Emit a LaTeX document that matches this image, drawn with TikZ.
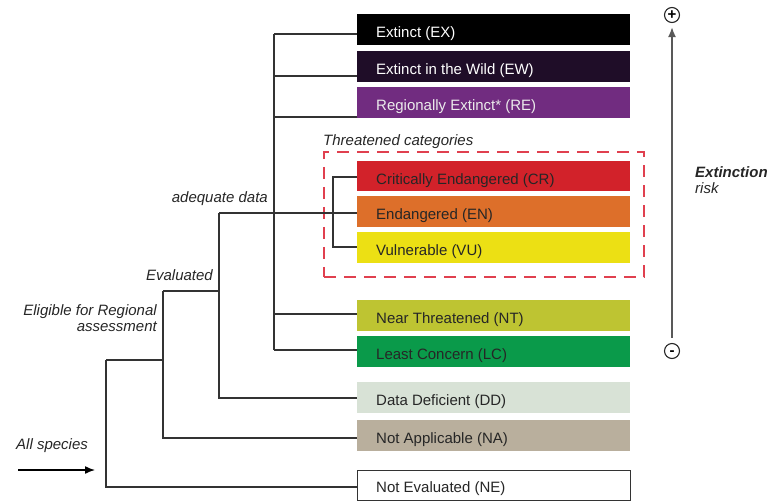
\documentclass[tikz,border=0pt]{standalone}
\usepackage{fontspec}
\setmainfont{Liberation Sans}
\usetikzlibrary{arrows.meta}
\definecolor{cEX}{HTML}{000000}
\definecolor{cEW}{HTML}{1F0D28}
\definecolor{cRE}{HTML}{712C80}
\definecolor{cCR}{HTML}{D2222A}
\definecolor{cEN}{HTML}{DD6F2A}
\definecolor{cVU}{HTML}{ECE014}
\definecolor{cNT}{HTML}{BEC432}
\definecolor{cLC}{HTML}{0A9A4A}
\definecolor{cDD}{HTML}{D8E2D6}
\definecolor{cNA}{HTML}{B9AF9D}
\definecolor{lineC}{HTML}{333333}
\definecolor{dashC}{HTML}{E0404F}
\begin{document}
\begin{tikzpicture}[x=1pt,y=-1pt,
  catbox/.style={draw=none,rectangle,minimum width=273pt,minimum height=31pt,inner sep=0pt,anchor=north west},
  cattext/.style={anchor=base west,inner sep=0pt,font=\fontsize{15}{16}\selectfont},
  lbl/.style={inner sep=0pt,font=\fontsize{15}{16}\selectfont\itshape,align=right},
  conn/.style={draw=lineC,line width=1.7pt},
  sign/.style={circle,draw=black!85,line width=1.1pt,minimum size=15pt,inner sep=0pt,font=\fontsize{15}{15}\selectfont\bfseries},
]
\useasboundingbox (0,0) rectangle (782,501);
% boxes
\node[catbox,fill=cEX] (ex) at (357,14) {};
\node[catbox,fill=cEW] (ew) at (357,51) {};
\node[catbox,fill=cRE] (re) at (357,87) {};
\node[catbox,fill=cCR,minimum height=30pt] (cr) at (357,161) {};
\node[catbox,fill=cEN] (en) at (357,196) {};
\node[catbox,fill=cVU] (vu) at (357,232) {};
\node[catbox,fill=cNT] (nt) at (357,300) {};
\node[catbox,fill=cLC] (lc) at (357,336) {};
\node[catbox,fill=cDD] (dd) at (357,382) {};
\node[catbox,fill=cNA] (na) at (357,420) {};
\node[catbox,draw=lineC,line width=1.3pt,fill=white,minimum height=30pt] (ne) at (357,470) {};
% box texts
\node[cattext,text=white] (tex) at (376,37) {Extinct (EX)};
\node[cattext,text=white] (tew) at (376,74) {Extinct in the Wild (EW)};
\node[cattext,text=white!92!black] (tre) at (376,110) {Regionally Extinct* (RE)};
\node[cattext,text=black!85] (tcr) at (376,184) {Critically Endangered (CR)};
\node[cattext,text=black!85] (ten) at (376,219) {Endangered (EN)};
\node[cattext,text=black!85] (tvu) at (376,255) {Vulnerable (VU)};
\node[cattext,text=black!85] (tnt) at (376,323) {Near Threatened (NT)};
\node[cattext,text=black!85] (tlc) at (376,359) {Least Concern (LC)};
\node[cattext,text=black!85] (tdd) at (376,405) {Data Deficient (DD)};
\node[cattext,text=black!85] (tna) at (376,443) {Not Applicable (NA)};
\node[cattext,text=black!85] (tne) at (376,492) {Not Evaluated (NE)};
% threatened dashed frame
\node[draw=dashC,line width=1.6pt,dash pattern=on 12pt off 8pt,rectangle,inner sep=0pt,minimum width=320pt,minimum height=125pt,anchor=north west] (thr) at (323,151) {};
\node[lbl,anchor=base west,text=black!85] (thrl) at (323,145) {Threatened categories};
% connector junctions
\coordinate (aTop) at (274,34);
\coordinate (aEW) at (274,76);
\coordinate (aRE) at (274,117);
\coordinate (aNT) at (274,314);
\coordinate (aBot) at (274,350);
\coordinate (adq) at (219,213);
\coordinate (tTop) at (333,177);
\coordinate (tBot) at (333,247);
\coordinate (evT) at (163,291);
\coordinate (evB) at (219,398);
\coordinate (elT) at (106,360);
\coordinate (elR) at (163,438);
\coordinate (neB) at (106,487);
% adequate data trunk
\draw[conn] (aTop) -- (aBot);
\draw[conn] (aTop) -- (aTop -| ex.west);
\draw[conn] (aEW) -- (aEW -| ew.west);
\draw[conn] (aRE) -- (aRE -| re.west);
\draw[conn] (aNT) -- (aNT -| nt.west);
\draw[conn] (aBot) -- (aBot -| lc.west);
% threatened bracket
\draw[conn] (adq) -- (adq -| en.west);
\draw[conn] (tTop -| cr.west) -- (tTop) -- (tBot) -- (tBot -| vu.west);
% evaluated
\draw[conn] (adq) -- (evB) -- (evB -| dd.west);
\draw[conn] (evT) -- (adq |- evT);
% eligible
\draw[conn] (evT) -- (elR) -- (elR -| na.west);
\draw[conn] (elT) -- (evT |- elT);
% all species
\draw[conn] (elT) -- (neB) -- (neB -| ne.west);
% labels
\node[lbl,anchor=base east,text=black!85] (ladq) at (268,202) {adequate data};
\node[lbl,anchor=base east,text=black!85] (lev) at (213,280) {Evaluated};
\node[lbl,anchor=base east,text=black!85] (lel) at (157,331) {Eligible for Regional\\assessment};
\node[lbl,anchor=base west,text=black!85] (lall) at (16,449) {All species};
\coordinate (arS) at (18,470);
\coordinate (arE) at (95,470);
\draw[draw=black,line width=1.4pt,-{Latex[length=10pt,width=8pt]}] (arS) -- (arE);
% extinction risk axis
\node[sign] (plus) at (672,15) {\vphantom{+}+};
\node[sign] (minus) at (672,351) {\vphantom{+}-};
\draw[draw=black!65,line width=1.7pt,-{Latex[length=10pt,width=8pt]},shorten <=5pt,shorten >=4pt] (minus) -- (plus);
\node[inner sep=0pt,anchor=base west,font=\fontsize{15}{15}\selectfont\bfseries\itshape,text=black!85] (risk1) at (695,177) {Extinction};
\node[inner sep=0pt,anchor=base west,font=\fontsize{15}{15}\selectfont\itshape,text=black!85] (risk2) at (695,193) {risk};
\end{tikzpicture}
\end{document}
